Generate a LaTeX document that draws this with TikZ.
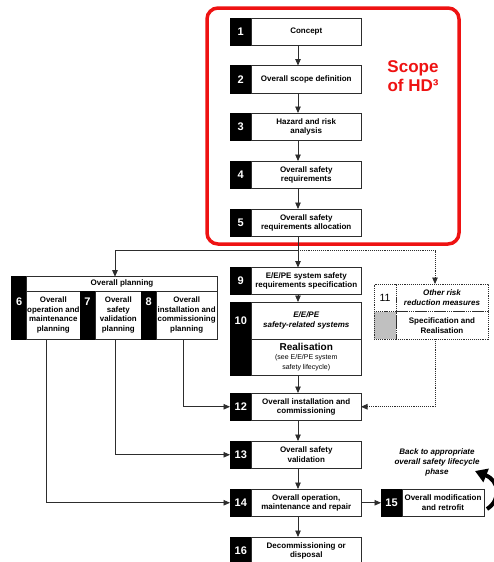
\documentclass[tikz,border=0pt]{standalone}
\usepackage{fontspec}
\setmainfont{Liberation Sans}
\usetikzlibrary{arrows.meta}
\definecolor{boxline}{RGB}{45,45,45}
\definecolor{scopered}{RGB}{238,18,18}
\definecolor{cellgray}{RGB}{192,192,192}
\begin{document}
\begin{tikzpicture}[x=1pt,y=-1pt,
  cell/.style={draw=boxline, line width=0.9pt, anchor=north west, inner sep=0pt, outer sep=0pt, align=center},
  numcell/.style={cell, draw=black, fill=black, text=white, font=\fontsize{11}{11}\selectfont\bfseries},
  txtcell/.style={cell, fill=white, font=\fontsize{8}{9.6}\selectfont\bfseries},
  mainnum/.style={numcell, minimum width=21.5pt, minimum height=27.5pt},
  maintxt/.style={txtcell, minimum width=109.5pt, minimum height=27.5pt},
  plantxt/.style={txtcell, font=\fontsize{7.9}{9.4}\selectfont\bfseries},
  dotcell/.style={cell, draw=boxline, densely dotted, line width=0.8pt},
  conn/.style={draw=boxline, line width=0.9pt},
  arr/.style={conn, -{Triangle[length=6.5pt,width=5.5pt]}},
  dotarr/.style={conn, densely dotted, -{Triangle[length=6.5pt,width=5.5pt]}},
  pnum/.style={text=white, font=\fontsize{11}{11}\selectfont\bfseries, inner sep=0pt}
]
\useasboundingbox (0,0) rectangle (494,562);

% scope frame around phases 1-5
\draw[scopered, line width=3.5pt, rounded corners=11pt] (207,8) rectangle (459,244);
\node[text=scopered, font=\fontsize{17}{19.5}\selectfont\bfseries, align=center] (scope) at (413,76) {Scope\\of HD³};

% phases 1-5
\node[mainnum] (n1) at (230,18) {1};
\node[maintxt] (t1) at (251.5,18) {Concept};
\node[mainnum] (n2) at (230,65.5) {2};
\node[maintxt] (t2) at (251.5,65.5) {Overall scope definition};
\node[mainnum] (n3) at (230,113) {3};
\node[maintxt] (t3) at (251.5,113) {Hazard and risk\\analysis};
\node[mainnum] (n4) at (230,161) {4};
\node[maintxt] (t4) at (251.5,161) {Overall safety\\requirements};
\node[mainnum] (n5) at (230,209) {5};
\node[maintxt] (t5) at (251.5,209) {Overall safety\\requirements allocation};

% overall planning block (6-8)
\node[numcell, minimum width=15pt, minimum height=14.3pt] (hn) at (11.7,276.7) {};
\node[txtcell, minimum width=190.6pt, minimum height=14.3pt] (hdr) at (26.7,276.7) {Overall planning};
\node[numcell, minimum width=15pt, minimum height=48pt] (n6) at (11.7,291) {};
\node[plantxt, minimum width=53.3pt, minimum height=48pt] (t6) at (26.7,291) {Overall\\operation and\\maintenance\\planning};
\node[numcell, minimum width=15pt, minimum height=48pt] (n7) at (80,291) {};
\node[plantxt, minimum width=46.7pt, minimum height=48pt] (t7) at (95,291) {Overall\\safety\\validation\\planning};
\node[numcell, minimum width=14.3pt, minimum height=48pt] (n8) at (141.7,291) {};
\node[plantxt, minimum width=61.3pt, minimum height=48pt] (t8) at (156,291) {Overall\\installation and\\commissioning\\planning};
\node[pnum] (l6) at (19.2,301.5) {6};
\node[pnum] (l7) at (87.5,301.5) {7};
\node[pnum] (l8) at (148.8,301.5) {8};

% phases 9-10
\node[mainnum, minimum height=27pt] (n9) at (230,267.5) {9};
\node[maintxt, minimum height=27pt] (t9) at (251.5,267.5) {E/E/PE system safety\\requirements specification};
\node[mainnum, minimum height=37pt] (n10) at (230,302) {10};
\node[maintxt, minimum height=37pt, font=\fontsize{8}{9.6}\selectfont\bfseries\itshape] (t10) at (251.5,302) {E/E/PE\\safety-related systems};
\node[mainnum, minimum height=36pt] (n10b) at (230,339) {};
\node[maintxt, minimum height=36pt] (t10b) at (251.5,339) {{\fontsize{10}{10.5}\selectfont Realisation}\\[-0.5pt]{\fontsize{7}{8.4}\selectfont\mdseries (see E/E/PE system}\\{\fontsize{7}{8.4}\selectfont\mdseries safety lifecycle)}};

% phase 11 (other risk reduction measures)
\node[dotcell, minimum width=22pt, minimum height=27.7pt, font=\fontsize{10.5}{10.5}\selectfont] (n11) at (374,284) {11};
\node[dotcell, minimum width=92pt, minimum height=27.7pt, font=\fontsize{8}{9.6}\selectfont\bfseries\itshape] (t11) at (396,284) {Other risk\\reduction measures};
\node[dotcell, fill=cellgray, minimum width=22pt, minimum height=27.3pt] (n11b) at (374,311.7) {};
\node[dotcell, minimum width=92pt, minimum height=27.3pt, font=\fontsize{8}{9.6}\selectfont\bfseries] (t11b) at (396,311.7) {Specification and\\Realisation};

% phases 12-16
\node[mainnum] (n12) at (230,393) {12};
\node[maintxt] (t12) at (251.5,393) {Overall installation and\\commissioning};
\node[mainnum] (n13) at (230,441) {13};
\node[maintxt] (t13) at (251.5,441) {Overall safety\\validation};
\node[mainnum] (n14) at (230,489) {14};
\node[maintxt] (t14) at (251.5,489) {Overall operation,\\maintenance and repair};
\node[mainnum, minimum height=28pt] (n16) at (230,537) {16};
\node[maintxt, minimum height=28pt] (t16) at (251.5,537) {Decommissioning or\\disposal};
\node[numcell, minimum width=21pt, minimum height=27.5pt] (n15) at (381,489) {15};
\node[txtcell, minimum width=82pt, minimum height=27.5pt] (t15) at (402,489) {Overall modification\\and retrofit};

\node[font=\fontsize{8}{10}\selectfont\bfseries\itshape, align=center] (back) at (437,462) {Back to appropriate\\overall safety lifecycle\\phase};

% connector reference points
\coordinate (colx) at (298,0);
\coordinate (split) at (298,250.5);
\coordinate (rjoin) at (435,250.5);
\coordinate (v6) at (46,339);
\coordinate (v7) at (115,339);
\coordinate (v8) at (183,339);
\coordinate (v11) at (435,339);
\coordinate (loopstart) at (487,509);

% main flow
\draw[arr] (t1.south -| colx) -- (t2.north -| colx);
\draw[arr] (t2.south -| colx) -- (t3.north -| colx);
\draw[arr] (t3.south -| colx) -- (t4.north -| colx);
\draw[arr] (t4.south -| colx) -- (t5.north -| colx);
\draw[conn] (t5.south -| colx) -- (split);
\draw[arr] (split) -- (t9.north -| colx);
\draw[arr] (split) -| (hdr.north -| v7);
\draw[conn, densely dotted] (split) -- (rjoin);
\draw[dotarr] (rjoin) -- (t11.north -| rjoin);
\draw[arr] (t9.south -| colx) -- (t10.north -| colx);
\draw[arr] (t10b.south -| colx) -- (t12.north -| colx);
\draw[arr] (t12.south -| colx) -- (t13.north -| colx);
\draw[arr] (t13.south -| colx) -- (t14.north -| colx);
\draw[arr] (t14.south -| colx) -- (t16.north -| colx);
\draw[arr] (t14.east) -- (n15.west);

% planning outputs
\draw[arr] (v8) |- (n12.west);
\draw[arr] (v7) |- (n13.west);
\draw[arr] (v6) |- (n14.west);
\draw[dotarr] (v11) |- (t12.east);

% return path after modification
\draw[line width=4pt, -{Triangle[length=12pt,width=14pt]}] (loopstart) .. controls (501,500) and (500,481) .. (475,471);
\end{tikzpicture}
\end{document}
